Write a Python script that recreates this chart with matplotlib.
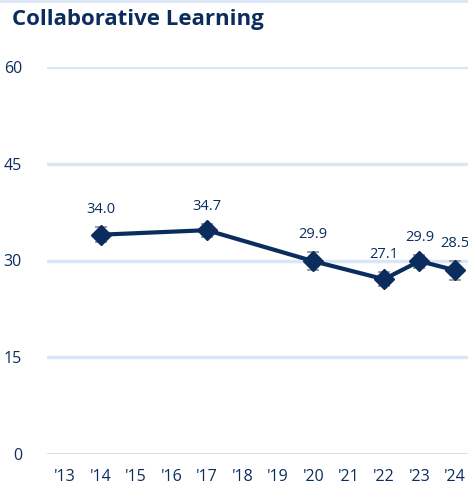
import matplotlib
matplotlib.use("Agg")
import matplotlib.pyplot as plt
from matplotlib.lines import Line2D

# data
years = [14, 17, 20, 22, 23, 24]
values = [34.0, 34.7, 29.9, 27.1, 29.9, 28.5]
errors = [1.2, 1.0, 1.4, 1.1, 1.0, 1.5]
tick_years = list(range(13, 25))
tick_labels = ["'%d" % y for y in tick_years]
y_ticks = [0, 15, 30, 45, 60]

navy = "#0b2d5e"
plt.rcParams['font.family'] = ['Open Sans', 'DejaVu Sans']

fig = plt.figure(figsize=(4.68, 4.88), dpi=100)
ax = fig.add_axes([47 / 468, 1 - 454 / 488, 1 - 47 / 468, (454 - 67) / 488])

for y in y_ticks[1:]:
    ax.axhline(y, color="#dae6f6", lw=2.5, zorder=0)
ax.axhline(0, color="#d9d9d9", lw=2, zorder=0)

ax.errorbar(years, values, yerr=errors, fmt="none", ecolor="#8c8c8c",
            elinewidth=1.2, capsize=4, capthick=1.2, zorder=2)
ax.plot(years, values, color=navy, lw=3, marker="D", markersize=10, zorder=3)

for x, v, e in zip(years, values, errors):
    ax.annotate("%.1f" % v, (x, v + e), xytext=(0, 7), textcoords="offset points",
                ha="center", va="bottom", color=navy, fontsize=10.5)

ax.set_xlim(12.49, 24.37)
ax.set_ylim(0, 60)
ax.set_xticks(tick_years)
ax.set_xticklabels(tick_labels)
ax.set_yticks(y_ticks)
ax.tick_params(length=0, colors=navy, labelsize=11.5)
ax.tick_params(axis="x", pad=11)
ax.tick_params(axis="y", pad=18)
for s in ax.spines.values():
    s.set_visible(False)

fig.add_artist(Line2D([0, 1], [0.998, 0.998], color="#dae6f6", lw=2, transform=fig.transFigure))
fig.text(12 / 468, 1 - 19 / 488, "Collaborative Learning", fontsize=16, fontweight="bold",
         color=navy, va="center", ha="left")

fig.savefig("out.png", dpi=100)
